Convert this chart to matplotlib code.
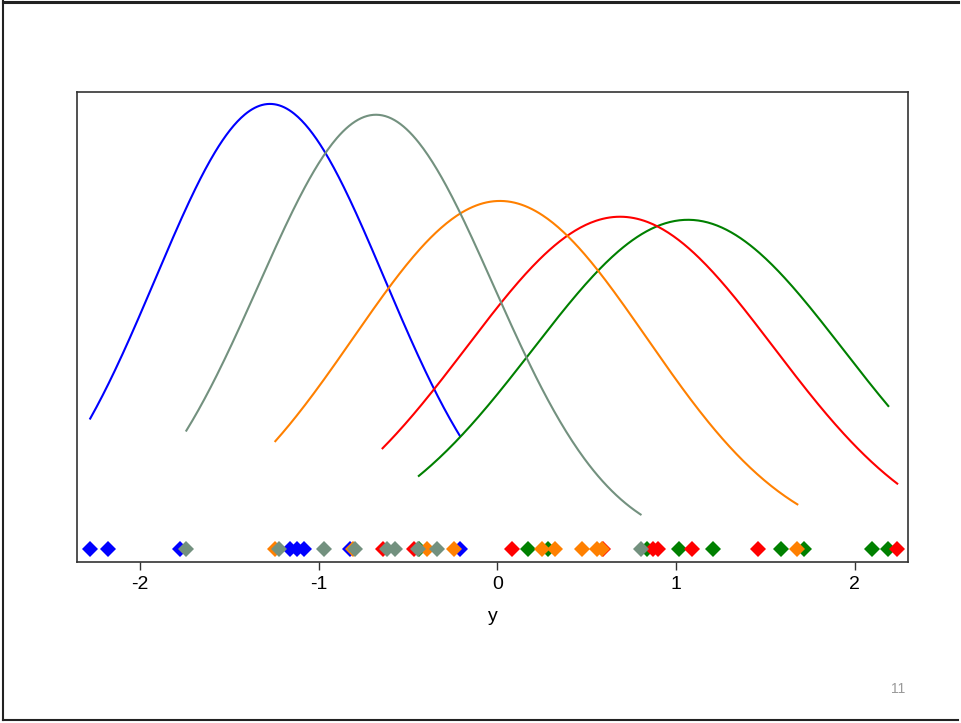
import numpy as np
import matplotlib.pyplot as plt
from matplotlib.lines import Line2D

# observed values (diamonds along the bottom)
blue_pts = [-2.279, -2.181, -1.775, -1.159, -1.122, -1.081, -0.824, -0.21]
gray_pts = [-1.741, -1.224, -0.973, -0.797, -0.62, -0.574, -0.443, -0.34, 0.801]
orange_pts = [-1.243, -0.81, -0.396, -0.242, 0.247, 0.322, 0.475, 0.555, 0.583, 1.678]
red_pts = [-0.643, -0.467, 0.083, 0.592, 0.872, 0.9, 1.09, 1.458, 2.237]
green_pts = [-0.44, 0.172, 0.284, 0.835, 1.016, 1.204, 1.588, 1.715, 2.094, 2.187]

# normal curve parameters
blue_mu, blue_sd = -1.273, 0.642
gray_mu, gray_sd = -0.68, 0.658
orange_mu, orange_sd = 0.014, 0.821
red_mu, red_sd = 0.686, 0.860
green_mu, green_sd = 1.066, 0.868

c_blue = '#0000ff'
c_gray = '#73917f'
c_orange = '#ff8000'
c_red = '#ff0000'
c_green = '#008000'

groups = [
    (blue_pts, blue_mu, blue_sd, c_blue),
    (green_pts, green_mu, green_sd, c_green),
    (red_pts, red_mu, red_sd, c_red),
    (orange_pts, orange_mu, orange_sd, c_orange),
    (gray_pts, gray_mu, gray_sd, c_gray),
]

plt.rcParams['font.family'] = ['Liberation Sans', 'DejaVu Sans']
plt.rcParams['axes.unicode_minus'] = False

fig = plt.figure(figsize=(9.61, 7.23), dpi=100)
ax = fig.add_axes([0.0801, 0.2227, 0.8647, 0.650])

for pts, mu, sd, col in groups:
    xs = np.linspace(min(pts), max(pts), 300)
    dens = np.exp(-(xs - mu) ** 2 / (2 * sd ** 2)) / (sd * np.sqrt(2 * np.pi))
    ax.plot(xs, dens, color=col, lw=1.5, zorder=2)

for i, (pts, mu, sd, col) in enumerate(groups):
    ax.plot(pts, np.zeros(len(pts)), 'D', color=col, ms=8, mec=col, mew=0,
            zorder=3 + i, clip_on=False)

ax.set_xlim(-2.353, 2.297)
ax.set_ylim(-0.0182, 0.638)
ax.set_yticks([])
ax.set_xticks([-2, -1, 0, 1, 2])
ax.tick_params(axis='x', labelsize=14, length=6, width=1, pad=4, color='#333333')
ax.set_xlabel('y', fontsize=14, labelpad=11)
for s in ax.spines.values():
    s.set_color('#333333')
    s.set_linewidth(1.2)

# slide frame
fig.add_artist(Line2D([0.003, 0.997], [0.9975, 0.9975], color='#222222', lw=2.2,
                      transform=fig.transFigure))
fig.add_artist(Line2D([0.0035, 0.0035], [0.004, 0.998], color='#222222', lw=1.5,
                      transform=fig.transFigure))
fig.add_artist(Line2D([0.003, 0.997], [0.0045, 0.0045], color='#222222', lw=1.5,
                      transform=fig.transFigure))
fig.text(898 / 961, 1 - 689 / 723, '11', ha='center', va='center', fontsize=10,
         color='#999999', family=['Liberation Sans', 'DejaVu Sans'])

fig.savefig('out.png', dpi=100)
